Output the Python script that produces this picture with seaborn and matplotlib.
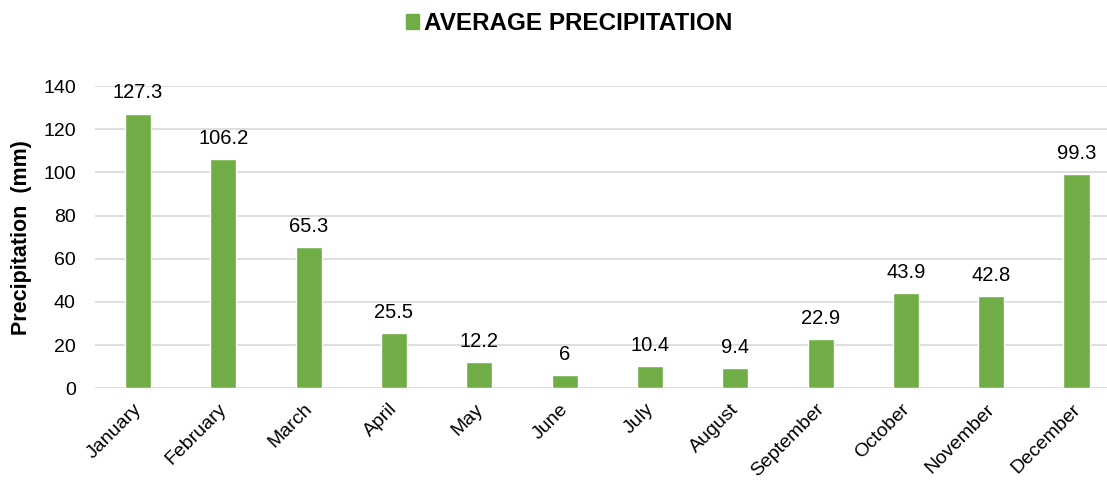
import matplotlib
matplotlib.use("Agg")
import matplotlib.pyplot as plt
import matplotlib.transforms as mtransforms
import seaborn as sns
import pandas as pd
from matplotlib.patches import Patch

months = ["January", "February", "March", "April", "May", "June", "July",
          "August", "September", "October", "November", "December"]
precip = [127.3, 106.2, 65.3, 25.5, 12.2, 6, 10.4, 9.4, 22.9, 43.9, 42.8, 99.3]
value_labels = ["127.3", "106.2", "65.3", "25.5", "12.2", "6", "10.4", "9.4",
                "22.9", "43.9", "42.8", "99.3"]

sns.set_theme(style="white")
plt.rcParams['font.family'] = ['Liberation Sans', 'DejaVu Sans']
plt.rcParams['text.color'] = 'black'
plt.rcParams['axes.labelcolor'] = 'black'

df = pd.DataFrame({"Month": months, "Precipitation": precip})
green = "#70AD47"

fig = plt.figure(figsize=(11.07, 4.84), dpi=100)
ax = fig.add_axes([0.0860, 0.198, 0.925, 0.624])

sns.barplot(data=df, x="Month", y="Precipitation", color=green, width=0.305,
            saturation=1, ax=ax, zorder=3)

ax.set_ylim(0, 140)
ax.set_yticks(range(0, 141, 20))
ax.grid(axis="y", color="#D9D9D9", linewidth=1.2, zorder=0)
ax.set_axisbelow(True)
for s in ax.spines.values():
    s.set_visible(False)
ax.tick_params(axis="both", length=0, labelsize=14, colors="black")
ax.tick_params(axis="y", pad=14)
ax.tick_params(axis="x", pad=4)
plt.setp(ax.get_xticklabels(), rotation=45, ha="right", rotation_mode="anchor")
offset = mtransforms.ScaledTranslation(-0.05, -0.07, fig.dpi_scale_trans)
for lab in ax.get_xticklabels():
    lab.set_transform(lab.get_transform() + offset)
ax.set_xlabel("")
ax.set_ylabel("Precipitation  (mm)", fontsize=15.5, fontweight="bold",
              labelpad=8, color="black")

for i, (v, lab) in enumerate(zip(precip, value_labels)):
    ax.annotate(lab, (i, v), xytext=(0, 8), textcoords="offset points",
                ha="center", va="bottom", fontsize=14.5, color="black")

fig.legend(handles=[Patch(color=green, label="AVERAGE PRECIPITATION")],
           loc="upper center", bbox_to_anchor=(0.514, 1.02), frameon=False,
           prop={"weight": "bold", "size": 17.5}, handlelength=0.55,
           handleheight=0.55, handletextpad=0.2, labelcolor="black")

fig.savefig("out.png", dpi=100)
